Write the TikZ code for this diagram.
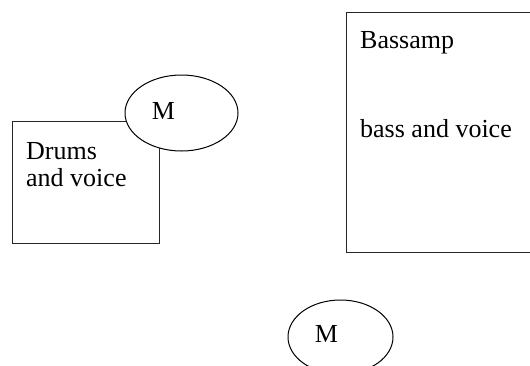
\documentclass[tikz,border=0pt]{standalone}
\usepackage{fontspec}
\setmainfont{Liberation Serif}
\usepackage{tikz}
\usetikzlibrary{shapes,positioning,calc}

\begin{document}
\begin{tikzpicture}[x=1pt, y=-1pt, every node/.style={font=\fontsize{26}{27}\selectfont, inner sep=0pt}]

\useasboundingbox (0,0) rectangle (530,365);
\clip (0,0) rectangle (530,365);

% Boxes for the players
\node[draw, rectangle, line width=1pt, black!85, minimum width=147pt, minimum height=122pt] (drums) at (85.5,182) {};
\node[draw, rectangle, line width=1pt, black!85, minimum width=200pt, minimum height=240pt] (bassamp) at (446,132) {};

% Box texts (base of a two-line node is its last line)
\node[anchor=base west, align=left] (drumstext) at (26,186) {Drums\\and voice};
\node[anchor=base west] (basstitle) at (360,48) {Bassamp};
\node[anchor=base west] (bassvoice) at (360,137) {bass and voice};

% Microphones
\node[draw, ellipse, line width=1pt, fill=white, minimum width=113pt, minimum height=76pt] (mic1) at (181.5,113) {};
\node[draw, ellipse, line width=1pt, fill=white, minimum width=105pt, minimum height=74pt] (mic2) at (340.5,337) {};
\node (mic1label) at ([xshift=-18pt,yshift=2pt]mic1.center) {M};
\node (mic2label) at ([xshift=-14pt,yshift=3pt]mic2.center) {M};

\end{tikzpicture}
\end{document}
